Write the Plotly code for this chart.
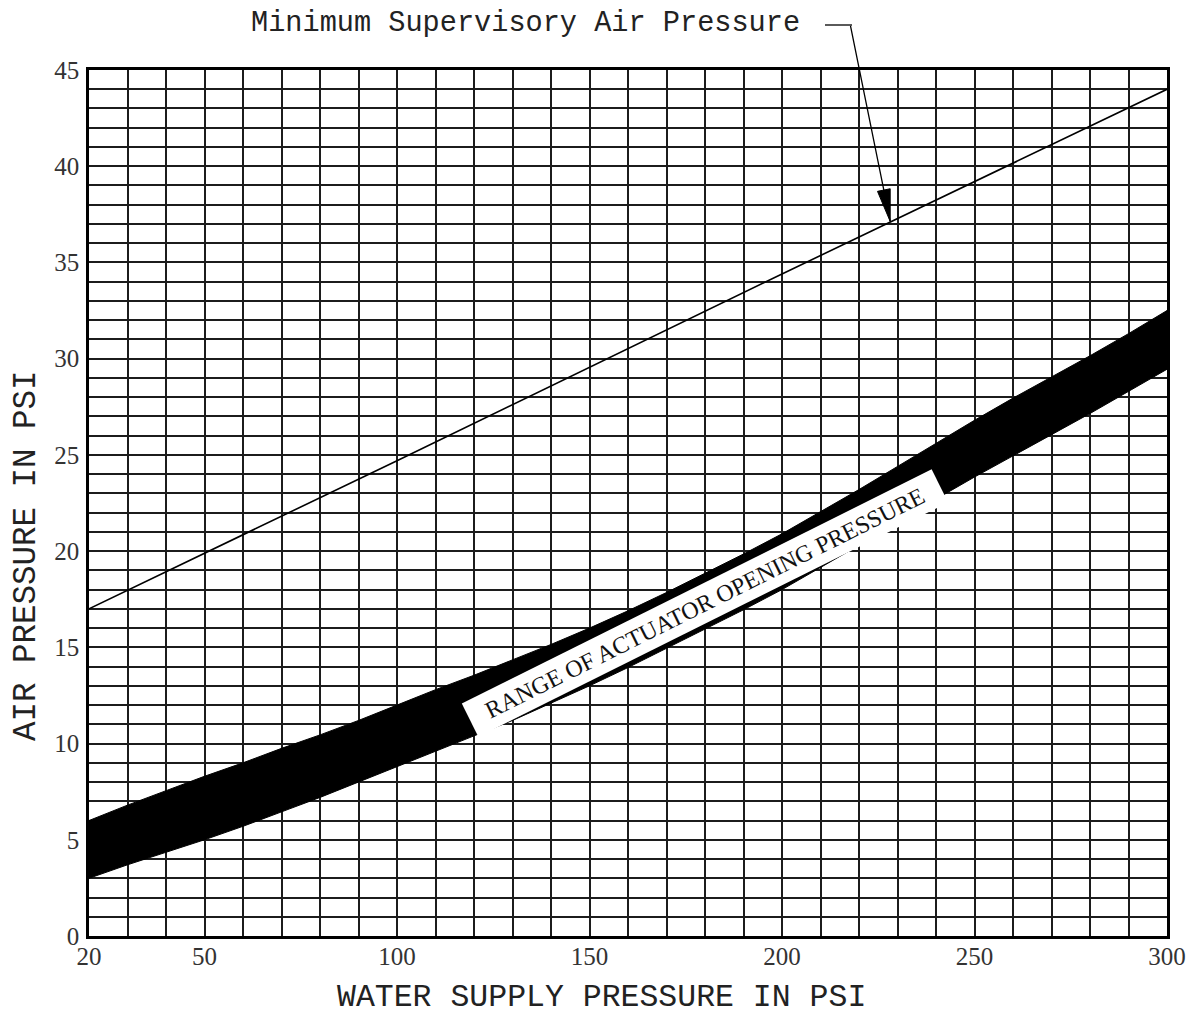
import plotly.graph_objects as go

# ---- data ----
water_psi = [20, 30, 40, 50, 60, 70, 80, 90, 100, 110, 120, 130, 140, 150, 160,
             170, 180, 190, 200, 210, 220, 230, 240, 250, 260, 270, 280, 290, 300]
actuator_upper = [6.0, 6.8, 7.55, 8.3, 9.0, 9.75, 10.45, 11.2, 12.0, 12.8, 13.55, 14.35,
                  15.15, 16.0, 16.9, 17.85, 18.85, 19.85, 20.9, 22.05, 23.2, 24.4, 25.6,
                  26.8, 27.95, 29.05, 30.15, 31.3, 32.5]
actuator_lower = [3.0, 3.7, 4.35, 5.0, 5.7, 6.45, 7.2, 8.0, 8.8, 9.6, 10.4, 11.2, 12.1,
                  13.0, 13.95, 14.95, 15.95, 16.95, 18.0, 19.15, 20.3, 21.5, 22.7, 23.85,
                  24.95, 26.05, 27.15, 28.3, 29.45]

supervisory_x = [20, 100, 200, 300]
supervisory_y = [17.0, 24.7, 34.4, 44.0]

x_tickvals = [20, 50, 100, 150, 200, 250, 300]
y_tickvals = [0, 5, 10, 15, 20, 25, 30, 35, 40, 45]

arrow_target = (228.1, 37.13)
band_label_pos = (180, 17.3)

MONO = "Liberation Mono"
SERIF = "Liberation Serif"
GRID = "#1c1c1c"

# plot area (page pixels): x 89..1167, y 70..936 ; page has an 8px body margin
PL, PT, PW, PH = 89, 70, 1078, 866


def px(xp):
    return (xp - PL) / PW


def py(yp):
    return (PT + PH - yp) / PH


fig = go.Figure()

# black band (range of actuator opening pressure)
fig.add_trace(go.Scatter(
    x=water_psi + water_psi[::-1],
    y=actuator_upper + actuator_lower[::-1],
    mode="lines", fill="toself", fillcolor="black",
    line=dict(color="black", width=1), hoverinfo="skip", showlegend=False))

# minimum supervisory air pressure line
fig.add_trace(go.Scatter(
    x=supervisory_x, y=supervisory_y, mode="lines",
    line=dict(color="black", width=1.6), showlegend=False))

fig.update_layout(
    width=1180, height=1008,
    margin=dict(l=PL - 8, r=1180 - (PL - 8) - PW, t=PT - 8, b=1008 - (PT - 8) - PH),
    paper_bgcolor="white", plot_bgcolor="white",
    showlegend=False,
)

fig.update_xaxes(
    range=[20, 300], tickvals=x_tickvals, ticktext=[str(v) for v in x_tickvals],
    showgrid=True, gridcolor=GRID, gridwidth=2.2,
    minor=dict(tick0=20, dtick=10, showgrid=True, gridcolor=GRID, gridwidth=1.9),
    showline=True, linecolor="black", linewidth=2.5, mirror=True,
    ticks="", ticklabelstandoff=-4, zeroline=False,
    tickfont=dict(family=SERIF, size=25, color="#333"),
    automargin=False,
)
fig.update_yaxes(
    range=[0, 45], tickvals=y_tickvals, ticktext=[str(v) for v in y_tickvals],
    showgrid=True, gridcolor=GRID, gridwidth=2.2,
    minor=dict(tick0=0, dtick=1, showgrid=True, gridcolor=GRID, gridwidth=1.9),
    showline=True, linecolor="black", linewidth=2.5, mirror=True,
    ticks="", ticklabelstandoff=2, zeroline=False,
    tickfont=dict(family=SERIF, size=25, color="#333"),
    automargin=False,
)

# axis titles
fig.add_annotation(
    x=px(601), y=py(997), xref="paper", yref="paper",
    text="WATER SUPPLY PRESSURE IN PSI", showarrow=False,
    xanchor="center", yanchor="middle",
    font=dict(family=MONO, size=31.5, color="#222"))
fig.add_annotation(
    x=px(26), y=py(556), xref="paper", yref="paper",
    text="AIR PRESSURE IN PSI", showarrow=False, textangle=-90,
    xanchor="center", yanchor="middle",
    font=dict(family=MONO, size=32.5, color="#222"))

# label on the band
fig.add_annotation(
    x=band_label_pos[0], y=band_label_pos[1], xref="x", yref="y",
    text="RANGE OF ACTUATOR OPENING PRESSURE", showarrow=False,
    textangle=-26.5, bgcolor="white", borderpad=0, width=524, height=36,
    font=dict(family=SERIF, size=24, color="#111"))

# callout text
fig.add_annotation(
    x=px(525), y=py(24), xref="paper", yref="paper",
    text="Minimum Supervisory Air Pressure", showarrow=False,
    xanchor="center", yanchor="middle",
    font=dict(family=MONO, size=28.6, color="#222"))

# horizontal lead of the callout
fig.add_shape(type="line", xref="paper", yref="paper",
              x0=px(825), x1=px(852), y0=py(25), y1=py(25),
              line=dict(color="black", width=1.3))

# callout line down to the supervisory line
fig.add_annotation(
    x=arrow_target[0], y=arrow_target[1], xref="x", yref="y",
    text="", showarrow=True, arrowhead=0, arrowwidth=1.3, arrowcolor="black",
    ax=-40, ay=-197, standoff=0)

# narrow arrowhead
fig.add_shape(type="path", xref="x", yref="y",
              xsizemode="pixel", ysizemode="pixel",
              xanchor=arrow_target[0], yanchor=arrow_target[1],
              path="M0,0 L-12.7,30.1 L0,32.7 Z",
              fillcolor="black", line=dict(color="black", width=1))

fig.write_html("out.html")
